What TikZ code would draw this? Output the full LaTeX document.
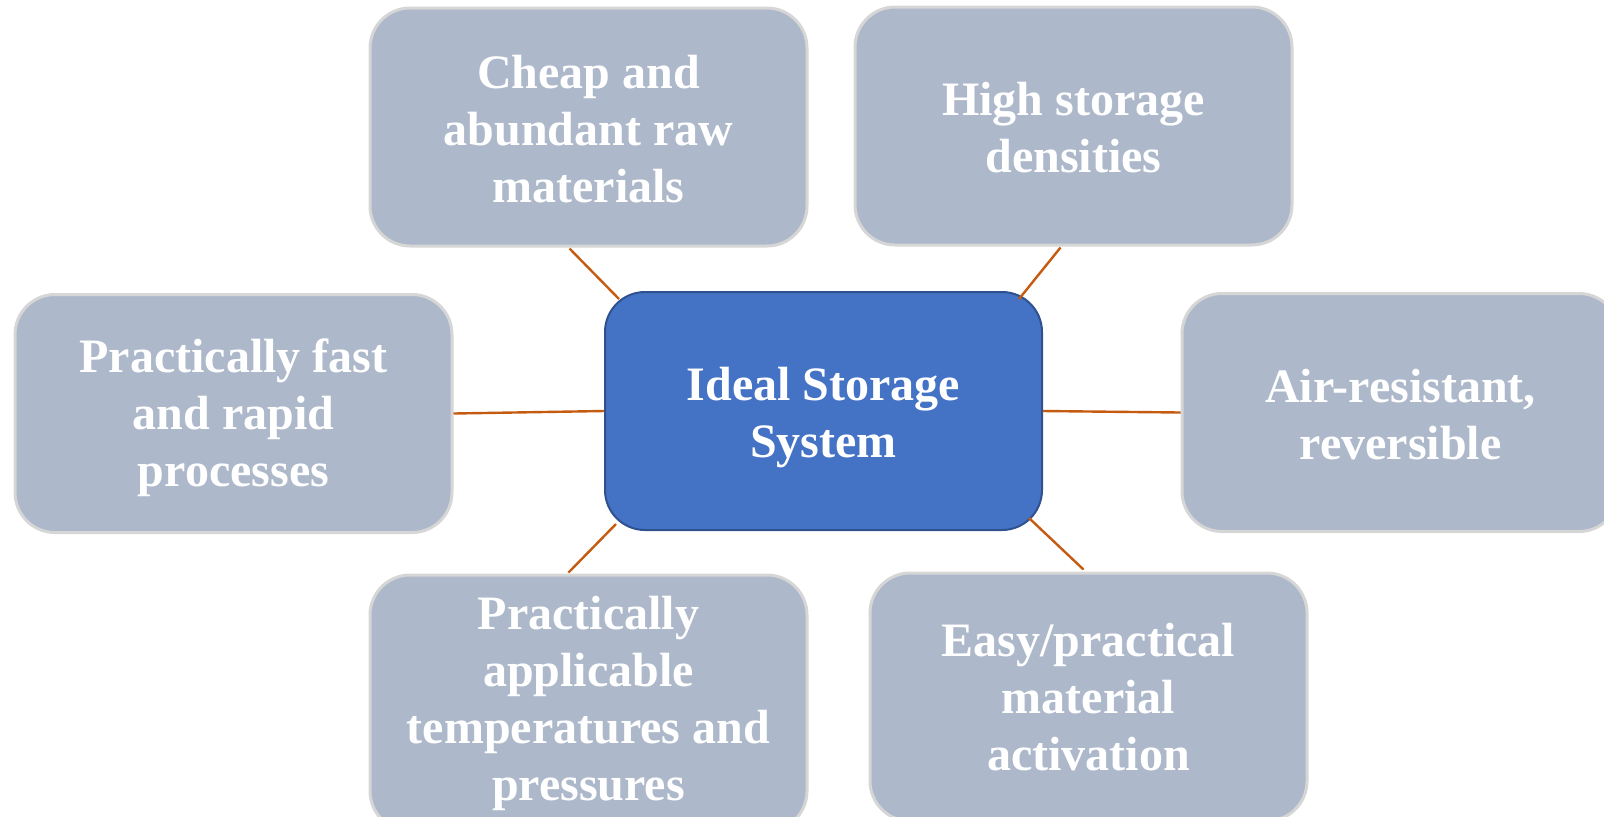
\documentclass[tikz,border=0pt]{standalone}
\usepackage{fontspec}
\setmainfont{Liberation Serif}
\usetikzlibrary{calc}
\definecolor{boxgrey}{HTML}{ADB9CA}
\definecolor{boxedge}{HTML}{D6D6D6}
\definecolor{coreblue}{HTML}{4472C4}
\definecolor{coreedge}{HTML}{2F528F}
\definecolor{linkorange}{HTML}{C55A11}
\newcommand{\droptext}[1]{\rule{0pt}{#1}}
\begin{document}
\begin{tikzpicture}[x=0.5pt,y=-0.5pt,
  idea/.style={draw=boxedge,line width=1.5pt,fill=boxgrey,rounded corners=20pt,
    minimum width=218.5pt,minimum height=119pt,align=center,text=white,
    font=\bfseries\fontsize{24}{28.5}\selectfont},
  core/.style={idea,draw=coreedge,line width=1pt,fill=coreblue},
  link/.style={draw=linkorange,line width=1.2pt}]
\clip (0,0) rectangle (1604,816);
\node[core] (ideal) at (823.5,411) {\droptext{23.5pt}Ideal Storage\\System};
\node[idea] (cheap) at (588.5,127) {\droptext{18.5pt}Cheap and\\abundant raw\\materials};
\node[idea] (dense) at (1073.5,126) {\droptext{18.5pt}High storage\\densities};
\node[idea] (fast) at (233.5,413.5) {\droptext{21.5pt}Practically fast\\and rapid\\processes};
\node[idea] (air) at (1400.5,412.5) {\droptext{18.5pt}Air-resistant,\\reversible};
\node[idea,minimum height=128pt] (temp) at (588.5,703) {Practically\\applicable\\temperatures and\\pressures};
\node[idea,minimum height=124pt] (activ) at (1088.5,697) {Easy/practical\\material\\activation};
\draw[link] ($(cheap.south)+(-19,1)$) -- ($(ideal.north west)+(15,8)$);
\draw[link] ($(dense.south)+(-13,1)$) -- ($(ideal.north east)+(-24,8)$);
\draw[link] (fast.east) -- (ideal.west);
\draw[link] (ideal.east) -- (air.west);
\draw[link] ($(ideal.south west)+(12,-7)$) -- ($(temp.north)+(-20,-1)$);
\draw[link] ($(ideal.south east)+(-14,-13)$) -- ($(activ.north)+(-5,-2)$);
\end{tikzpicture}
\end{document}
